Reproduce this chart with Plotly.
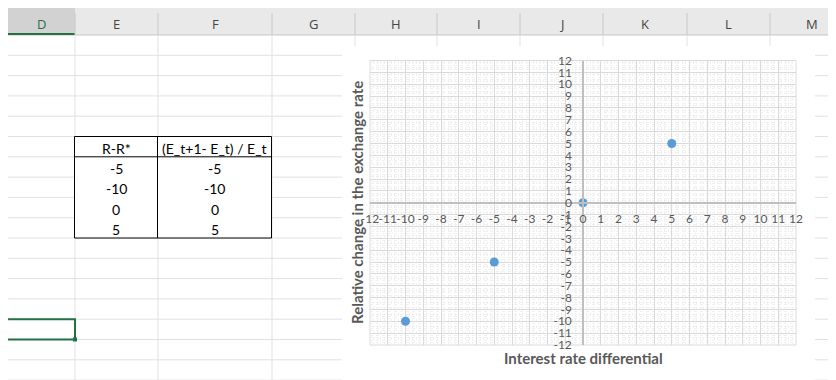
import plotly.graph_objects as go

# ---------------- data ----------------
rate_diff = [-5, -10, 0, 5]          # R - R*
rel_change = [-5, -10, 0, 5]         # (E_t+1 - E_t) / E_t
table_headers = ["R-R*", "(E_t+1- E_t) / E_t"]
column_letters = ["D", "E", "F", "G", "H", "I", "J", "K", "L", "M"]
axis_min, axis_max = -12, 12
x_title = "Interest rate differential"
y_title = "Relative change in the exchange rate"

# ---------------- geometry helpers (pixels -> paper) ----------------
W, H = 836, 380
OX, OY = 8, 8   # page body margin compensation
def px(x):
    return (x - OX) / W
def py(y):
    return 1 - (y - OY) / H

col_edges = [7, 75, 158, 272, 355, 437, 520, 603, 687, 770, 853]
row_h = 20.3
hdr_top, hdr_bot = 5, 35
row_lines = [hdr_bot + row_h * k for k in range(0, 18)]

# chart rectangle and plot area (pixels)
chart_box = (342, 46, 815, 390)
plot_l, plot_r, plot_t, plot_b = 370, 796, 60.5, 345

xd = [px(plot_l), px(plot_r)]
yd = [py(plot_b), py(plot_t)]
x_zero_pos = xd[0] + (0 - axis_min) / (axis_max - axis_min) * (xd[1] - xd[0])
y_zero_pos = yd[0] + (0 - axis_min) / (axis_max - axis_min) * (yd[1] - yd[0])

GRID = "#dadada"
SHEET = "#e1e1e1"
shapes = []
annotations = []

def rect(x0, y0, x1, y1, fill, line=None):
    shapes.append(dict(type="rect", xref="paper", yref="paper", x0=px(x0), x1=px(x1),
                       y0=py(y1), y1=py(y0), fillcolor=fill,
                       line=line or dict(width=0), layer="below"))

def seg(x0, y0, x1, y1, color, width=1):
    shapes.append(dict(type="line", xref="paper", yref="paper", x0=px(x0), x1=px(x1),
                       y0=py(y0), y1=py(y1), line=dict(color=color, width=width), layer="below"))

# header band
rect(-10, hdr_top, 900, hdr_bot, "#e9e9e9")
seg(-10, hdr_top, 900, hdr_top, "#d0d0d0")
rect(col_edges[0], hdr_top, col_edges[1], hdr_bot, "#d2d2d2")
seg(-10, hdr_bot, 900, hdr_bot, "#c6c6c6")
seg(col_edges[0], hdr_bot - 1, col_edges[1], hdr_bot - 1, "#217346", 2)

# column separators + letters
for i, letter in enumerate(column_letters):
    x0, x1 = col_edges[i], col_edges[i + 1]
    if i > 0:
        seg(x0, hdr_top + 8, x0, hdr_bot, "#c8c8c8")
    annotations.append(dict(xref="paper", yref="paper", x=px((x0 + x1) / 2), y=py(24),
                            text=letter, showarrow=False, xanchor="center", yanchor="middle",
                            font=dict(family="Open Sans", size=13,
                                      color="#217346" if letter == "D" else "#444444")))

# sheet gridlines
for x in col_edges[1:-1]:
    seg(x, hdr_bot, x, 400, SHEET)
for y in row_lines[1:]:
    seg(col_edges[0], y, 900, y, SHEET)

# table
n_rows = len(rate_diff) + 1
t_top = row_lines[5]
t_bot = t_top + row_h * n_rows
tx = [74.5, 157.5, 271.5]
rect(tx[0], t_top, tx[2], t_bot, "white", dict(color="#000000", width=1))
seg(tx[1], t_top, tx[1], t_bot, "#000000")
seg(tx[0], t_top + row_h, tx[2], t_top + row_h, "#000000")
cells = [table_headers] + [[str(a), str(b)] for a, b in zip(rate_diff, rel_change)]
for r, row in enumerate(cells):
    yc = t_top + row_h * (r + 1) - 8.5
    for c, txt in enumerate(row):
        annotations.append(dict(xref="paper", yref="paper", x=px((tx[c] + tx[c + 1]) / 2), y=py(yc),
                                text=txt, showarrow=False, xanchor="center", yanchor="middle",
                                font=dict(family="Lato", size=14, color="#000000")))

# selected cell (D row)
sel_top = row_lines[14]
rect(-5, sel_top, col_edges[1], sel_top + row_h, "rgba(0,0,0,0)", dict(color="#217346", width=2))
rect(col_edges[1] - 2, sel_top + row_h - 2, col_edges[1] + 2, sel_top + row_h + 2, "#217346")

# chart area (white)
rect(chart_box[0], chart_box[1], chart_box[2], chart_box[3], "white")
# plot area frame
shapes.append(dict(type="rect", xref="paper", yref="paper", x0=xd[0], x1=xd[1],
                   y0=yd[0], y1=yd[1], fillcolor="rgba(0,0,0,0)",
                   line=dict(color=GRID, width=1), layer="below"))

# axis titles
annotations.append(dict(xref="paper", yref="paper", x=px(583), y=py(358), text=x_title,
                        showarrow=False, xanchor="center", yanchor="middle",
                        font=dict(family="Lato", size=15, color="#595959", weight="bold")))
annotations.append(dict(xref="paper", yref="paper", x=px(357), y=py(203), text=y_title,
                        showarrow=False, xanchor="center", yanchor="middle", textangle=-90,
                        font=dict(family="Lato", size=15, color="#595959", weight="bold")))

fig = go.Figure()
fig.add_trace(go.Scatter(x=rate_diff, y=rel_change, mode="markers",
                         marker=dict(color="#5B9BD5", size=9, line=dict(width=0)),
                         showlegend=False, cliponaxis=False))

tickvals = list(range(axis_min, axis_max + 1))
common = dict(range=[axis_min, axis_max], tickmode="array", tickvals=tickvals,
              ticktext=[str(v) for v in tickvals], showgrid=True, gridcolor=GRID, gridwidth=1,
              zeroline=False, showline=True, linecolor="#bfbfbf", linewidth=1.5, ticks="",
              tickfont=dict(family="Lato", size=12, color="#595959"),
              minor=dict(dtick=0.2, showgrid=True, gridcolor="#f0f0f0", gridwidth=1, griddash="dot"),
              anchor="free", fixedrange=True, automargin=False)

fig.update_layout(
    width=W, height=H, margin=dict(l=0, r=0, t=0, b=0, pad=0, autoexpand=False),
    paper_bgcolor="white", plot_bgcolor="rgba(0,0,0,0)",
    xaxis=dict(common, domain=xd, position=y_zero_pos, side="bottom", tickangle=0,
               ticklabelstandoff=5),
    yaxis=dict(common, domain=yd, position=x_zero_pos, side="left", ticklabelstandoff=8),
    shapes=shapes, annotations=annotations, showlegend=False,
)

fig.write_html("out.html")
